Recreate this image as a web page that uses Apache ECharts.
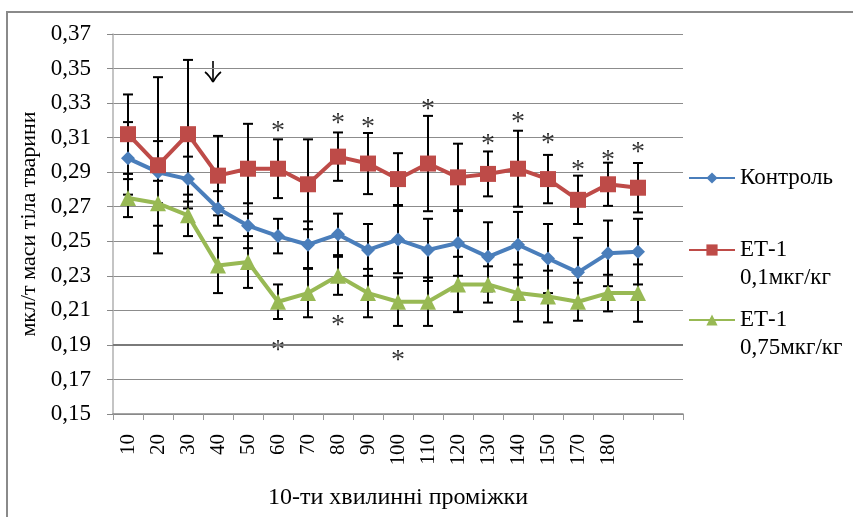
<!DOCTYPE html>
<html>
<head>
<meta charset="utf-8">
<script src="https://cdn.jsdelivr.net/npm/echarts@6/dist/echarts.min.js"></script>
<style>
  html, body { margin: 0; padding: 0; background: #fff; }
  #chart { width: 853px; height: 517px; }
</style>
</head>
<body>
<div id="chart"></div>
<script>
// categories (160 is missing in the source, last two slots carry no label)
const categories = ['10', '20', '30', '40', '50', '60', '70', '80', '90', '100',
  '110', '120', '130', '140', '150', '170', '180', ' ', '  ']

// mean values
const control = [0.298, 0.290, 0.286, 0.269, 0.259, 0.253, 0.248, 0.254, 0.245, 0.251,
  0.245, 0.249, 0.241, 0.248, 0.240, 0.232, 0.243, 0.244]
const et01 = [0.312, 0.294, 0.312, 0.288, 0.292, 0.292, 0.283, 0.299, 0.295, 0.286,
  0.295, 0.287, 0.289, 0.292, 0.286, 0.274, 0.283, 0.281]
const et075 = [0.275, 0.272, 0.265, 0.236, 0.238, 0.215, 0.220, 0.230, 0.220, 0.215,
  0.215, 0.225, 0.225, 0.220, 0.218, 0.215, 0.220, 0.220]

// error bar half-widths
const controlErr = [0.021, 0.018, 0.013, 0.010, 0.013, 0.010, 0.0135, 0.012, 0.015, 0.0195,
  0.018, 0.019, 0.020, 0.019, 0.020, 0.020, 0.019, 0.019]
const et01Err = [0.023, 0.051, 0.043, 0.023, 0.026, 0.017, 0.026, 0.014, 0.0177, 0.015,
  0.0276, 0.0195, 0.013, 0.022, 0.014, 0.014, 0.0125, 0.0143]
const et075Err = [0.011, 0.013, 0.012, 0.016, 0.015, 0.010, 0.014, 0.011, 0.014, 0.014,
  0.014, 0.016, 0.0105, 0.0165, 0.015, 0.011, 0.0106, 0.0166]

// significance marks: [category index, y position]
const starsAbove = [[5, 0.3167], [7, 0.3214], [8, 0.319], [10, 0.3295], [12, 0.3092],
  [13, 0.322], [14, 0.3098], [15, 0.2941], [16, 0.300], [17, 0.3046]]
const starsBelow = [[5, 0.190], [7, 0.2044], [9, 0.1841]]

const yTicks = { min: 0.15, max: 0.37, step: 0.02 }

const serif = "'Liberation Serif', 'Times New Roman', serif"
const names = ['Контроль', 'ЕТ-1\n0,1мкг/кг', 'ЕТ-1\n0,75мкг/кг']
const colors = ['#4A7EBB', '#BE4B48', '#98B954']

const errData = (vals, errs) => vals.map((v, i) => [i, v - errs[i], v + errs[i]])

function renderErr(params, api) {
  const x = api.value(0)
  const lo = api.coord([x, api.value(1)])
  const hi = api.coord([x, api.value(2)])
  const w = 5
  const st = { stroke: '#000', lineWidth: 2 }
  return {
    type: 'group',
    children: [
      { type: 'line', shape: { x1: hi[0], y1: hi[1], x2: lo[0], y2: lo[1] }, style: st },
      { type: 'line', shape: { x1: hi[0] - w, y1: hi[1], x2: hi[0] + w, y2: hi[1] }, style: st },
      { type: 'line', shape: { x1: lo[0] - w, y1: lo[1], x2: lo[0] + w, y2: lo[1] }, style: st }
    ]
  }
}

const errSeries = [[control, controlErr], [et01, et01Err], [et075, et075Err]].map(([v, e]) => ({
  type: 'custom',
  renderItem: renderErr,
  data: errData(v, e),
  encode: { x: 0, y: [1, 2] },
  z: 1,
  silent: true
}))

const lineSeries = [
  { data: control, symbol: 'diamond', symbolSize: 14 },
  { data: et01, symbol: 'rect', symbolSize: 16 },
  { data: et075, symbol: 'triangle', symbolSize: 16 }
].map((s, i) => ({
  name: names[i],
  type: 'line',
  data: s.data,
  symbol: s.symbol,
  symbolSize: s.symbolSize,
  color: colors[i],
  lineStyle: { width: 4, color: colors[i] },
  itemStyle: { color: colors[i] },
  z: 3
}))

const starSeries = [starsAbove, starsBelow].map(d => ({
  type: 'scatter',
  data: d,
  symbolSize: 0,
  silent: true,
  label: {
    show: true,
    position: 'inside',
    offset: [0, 6],
    formatter: '*',
    fontSize: 28,
    fontFamily: serif,
    color: '#000'
  },
  z: 4
}))

lineSeries[0].markLine = {
  silent: true,
  symbol: 'none',
  label: { show: false },
  lineStyle: { color: '#7a7a7a', width: 2, type: 'solid' },
  data: [{ yAxis: 0.19 }]
}

const legendBase = {
  orient: 'vertical',
  left: 688,
  padding: 0,
  itemWidth: 46,
  itemHeight: 14,
  textStyle: { fontSize: 23, fontFamily: serif, color: '#000', lineHeight: 28 }
}
// a leading blank line keeps the icon level with the first text line
const twoLine = n => '\n' + n

const chart = echarts.init(document.getElementById('chart'))
chart.setOption({
  animation: false,
  backgroundColor: '#fff',
  grid: { left: 113, right: 170, top: 34, bottom: 103, containLabel: false },
  legend: [
    Object.assign({}, legendBase, { top: 164, data: [names[0]] }),
    Object.assign({}, legendBase, { top: 208, data: [names[1]], formatter: twoLine }),
    Object.assign({}, legendBase, { top: 278, data: [names[2]], formatter: twoLine })
  ],
  xAxis: {
    type: 'category',
    data: categories,
    boundaryGap: true,
    name: '10-ти хвилинні проміжки',
    nameLocation: 'middle',
    nameGap: 72,
    nameTextStyle: { fontSize: 24, fontFamily: serif, color: '#000' },
    axisLine: { lineStyle: { color: '#888', width: 1.5 } },
    axisTick: { show: true, interval: 0, length: 6, lineStyle: { color: '#999' } },
    axisLabel: {
      interval: 0,
      rotate: 90,
      margin: 20,
      fontSize: 21,
      fontFamily: serif,
      color: '#000'
    },
    splitLine: { show: false }
  },
  yAxis: {
    type: 'value',
    min: yTicks.min,
    max: yTicks.max,
    interval: yTicks.step,
    name: 'мкл/т маси тіла тварини',
    nameLocation: 'middle',
    nameGap: 72,
    nameTextStyle: { fontSize: 22, fontFamily: serif, color: '#000' },
    axisLine: { show: true, lineStyle: { color: '#b0b0b0', width: 1.5 } },
    axisTick: { show: true, length: 6, lineStyle: { color: '#888' } },
    axisLabel: {
      margin: 22,
      fontSize: 23,
      fontFamily: serif,
      color: '#000',
      formatter: v => v.toFixed(2).replace('.', ',')
    },
    splitLine: { lineStyle: { color: '#8c8c8c', width: 1 } }
  },
  graphic: [
    {
      type: 'polyline',
      shape: { points: [[7, 517], [7, 12], [853, 12]] },
      style: { stroke: '#8a8a8a', lineWidth: 2, fill: null }
    },
    // the arrow marking the injection moment
    {
      type: 'group',
      children: [
        { type: 'line', shape: { x1: 213, y1: 61, x2: 213, y2: 82 },
          style: { stroke: '#000', lineWidth: 1.6 } },
        { type: 'bezierCurve', shape: { x1: 205, y1: 72, cpx1: 209, cpy1: 75, x2: 213, y2: 82 },
          style: { stroke: '#000', lineWidth: 1.6, fill: null } },
        { type: 'bezierCurve', shape: { x1: 221, y1: 72, cpx1: 217, cpy1: 75, x2: 213, y2: 82 },
          style: { stroke: '#000', lineWidth: 1.6, fill: null } }
      ]
    }
  ],
  series: [...errSeries, ...lineSeries, ...starSeries]
})
</script>
</body>
</html>
